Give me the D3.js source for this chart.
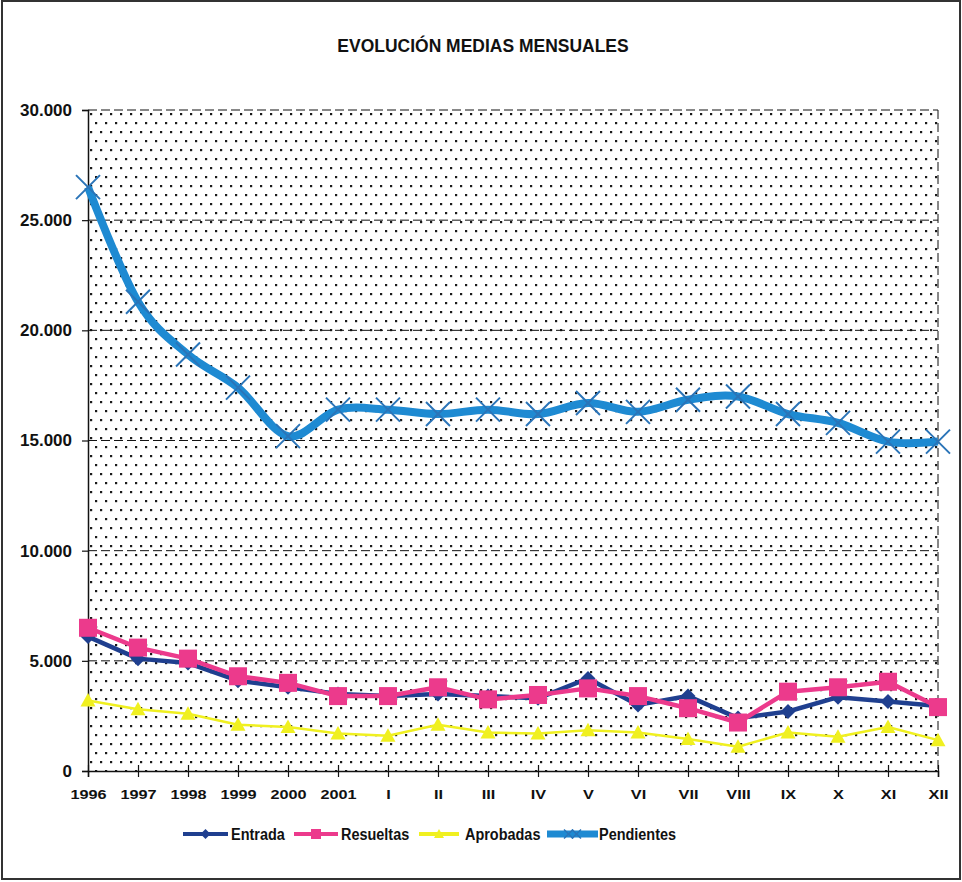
<!DOCTYPE html>
<html>
<head>
<meta charset="utf-8">
<script src="https://cdn.jsdelivr.net/npm/d3@7"></script>
<style>
  html, body { margin: 0; padding: 0; background: #fff; }
  svg { display: block; }
  text { font-family: "Liberation Sans", Arial, sans-serif; font-weight: bold; fill: #111; }
</style>
</head>
<body>
<script>
const categories = ["1996","1997","1998","1999","2000","2001","I","II","III","IV","V","VI","VII","VIII","IX","X","XI","XII"];
const entrada    = [6100,5100,4900,4100,3800,3500,3400,3500,3400,3300,4200,3000,3400,2400,2700,3350,3150,2950];
const resueltas  = [6500,5600,5100,4300,4000,3400,3400,3800,3250,3450,3750,3400,2850,2200,3600,3800,4050,2900];
const aprobadas  = [3200,2800,2600,2100,2000,1700,1600,2100,1750,1700,1850,1750,1450,1100,1750,1550,2000,1400];
const pendientes = [26500,21300,18900,17400,15200,16400,16400,16200,16400,16200,16700,16300,16850,17000,16200,15800,14950,14950];
const yTicks = [0,5000,10000,15000,20000,25000,30000];
const yTickLabels = ["0","5.000","10.000","15.000","20.000","25.000","30.000"];
const seriesNames = ["Entrada","Resueltas","Aprobadas","Pendientes"];
const title = "EVOLUCIÓN MEDIAS MENSUALES";

const W = 962, H = 882;
const plot = {left: 88, right: 938, top: 110, bottom: 771};

const svg = d3.select("body").append("svg").attr("width", W).attr("height", H);

// dotted background pattern
const defs = svg.append("defs");
const pat = defs.append("pattern").attr("id","dots").attr("patternUnits","userSpaceOnUse")
  .attr("x", plot.left).attr("y", plot.top).attr("width", 10).attr("height", 18);
pat.append("rect").attr("width",10).attr("height",18).attr("fill","#fff");
pat.append("rect").attr("x",2).attr("y",3).attr("width",2.2).attr("height",2.2).attr("fill","#1a1a1a");
pat.append("rect").attr("x",7).attr("y",12).attr("width",2.2).attr("height",2.2).attr("fill","#1a1a1a");

// outer frame
svg.append("rect").attr("x",2).attr("y",1).attr("width",W-4).attr("height",H-4)
  .attr("fill","none").attr("stroke","#333").attr("stroke-width",2);

// title
svg.append("text").attr("x", 0).attr("y", 0).attr("text-anchor","middle")
  .style("font-size","19px")
  .attr("transform","translate(483,52) scale(0.92,1)")
  .text(title);

const x = d3.scalePoint().domain(categories).range([plot.left, plot.right]).padding(0);
const y = d3.scaleLinear().domain([0,30000]).range([plot.bottom, plot.top]);

// plot background
svg.append("rect").attr("x",plot.left).attr("y",plot.top)
  .attr("width",plot.right-plot.left).attr("height",plot.bottom-plot.top)
  .attr("fill","url(#dots)");

// gridlines (dashed)
svg.append("g").selectAll("line").data(yTicks.filter(d => d > 0)).join("line")
  .attr("x1", plot.left).attr("x2", plot.right)
  .attr("y1", d => y(d)).attr("y2", d => y(d))
  .attr("stroke","#111").attr("stroke-width",1).attr("stroke-dasharray","9,4");
// right border dashed
svg.append("line").attr("x1",plot.right).attr("x2",plot.right).attr("y1",plot.top).attr("y2",plot.bottom)
  .attr("stroke","#111").attr("stroke-width",1).attr("stroke-dasharray","9,4");

// y axis
const yAxis = d3.axisLeft(y).tickValues(yTicks).tickSize(6).tickPadding(10)
  .tickFormat((d,i) => yTickLabels[i]);
const gy = svg.append("g").attr("transform", `translate(${plot.left},0)`).call(yAxis);
gy.select(".domain").attr("stroke","#111").attr("stroke-width",1.5);
gy.selectAll(".tick line").attr("stroke","#111").attr("stroke-width",1.2);
gy.selectAll(".tick text").style("font-size","17px").style("font-family","'Liberation Sans', Arial, sans-serif")
  .style("font-weight","bold").attr("fill","#222").attr("x",-16);

// x axis
const xAxis = d3.axisBottom(x).tickSize(6).tickPadding(14);
const gx = svg.append("g").attr("transform", `translate(0,${plot.bottom})`).call(xAxis);
gx.select(".domain").attr("stroke","#111").attr("stroke-width",1.5);
gx.selectAll(".tick line").attr("stroke","#111").attr("stroke-width",1.2).attr("y1",-6).attr("y2",6);
gx.selectAll(".tick text").style("font-size","13px").style("font-family","'Liberation Sans', Arial, sans-serif")
  .style("font-weight","600").attr("fill","#333")
  .attr("y", 0).attr("dy", 0)
  .attr("transform", "translate(0,28) scale(1.25,1)");

const series = [
  {name: seriesNames[0], values: entrada,   color: "#1f3f8f", width: 4.5, marker: "diamond",  mcolor: "#1f3f8f", msize: 15, curve: d3.curveLinear},
  {name: seriesNames[1], values: resueltas, color: "#ec3a8c", width: 4.5, marker: "square",   mcolor: "#ec3a8c", msize: 18, curve: d3.curveLinear},
  {name: seriesNames[2], values: aprobadas, color: "#f0f020", width: 2.5, marker: "triangle", mcolor: "#f0f020", msize: 15, curve: d3.curveLinear},
  {name: seriesNames[3], values: pendientes,color: "#1e8ad2", width: 8,   marker: "x",        mcolor: "#2a74b8", msize: 24, curve: d3.curveCardinal.tension(0)}
];

function drawMarker(g, type, cx, cy, s, color, sw) {
  if (type === "diamond") {
    const h = s/2;
    g.append("path").attr("d", `M${cx},${cy-h}L${cx+h},${cy}L${cx},${cy+h}L${cx-h},${cy}Z`).attr("fill", color);
  } else if (type === "square") {
    g.append("rect").attr("x", cx-s/2).attr("y", cy-s/2).attr("width", s).attr("height", s).attr("fill", color);
  } else if (type === "triangle") {
    const h = s/2;
    g.append("path").attr("d", `M${cx},${cy-h}L${cx+h},${cy+h*0.8}L${cx-h},${cy+h*0.8}Z`).attr("fill", color);
  } else if (type === "x") {
    const h = s/2;
    g.append("path").attr("d", `M${cx-h},${cy-h}L${cx+h},${cy+h}M${cx-h},${cy+h}L${cx+h},${cy-h}`)
      .attr("stroke", color).attr("stroke-width", sw || 2).attr("fill","none");
  }
}

series.forEach(s => {
  const line = d3.line().x((d,i) => x(categories[i])).y(d => y(d)).curve(s.curve);
  const g = svg.append("g");
  g.append("path").datum(s.values).attr("d", line).attr("fill","none")
    .attr("stroke", s.color).attr("stroke-width", s.width).attr("stroke-linejoin","round");
  s.values.forEach((v,i) => drawMarker(g, s.marker, x(categories[i]), y(v), s.msize, s.mcolor));
});

// legend
const legendItems = [
  {x0: 183, x1: 228, tx: 231},
  {x0: 294, x1: 338, tx: 341},
  {x0: 419, x1: 459, tx: 465},
  {x0: 547, x1: 598, tx: 599}
];
const ly = 834;
series.forEach((s,i) => {
  const it = legendItems[i];
  const g = svg.append("g");
  g.append("line").attr("x1", it.x0).attr("x2", it.x1).attr("y1", ly).attr("y2", ly)
    .attr("stroke", s.color).attr("stroke-width", s.width === 8 ? 7 : 4);
  if (s.marker === "x") {
    drawMarker(g, "x", (it.x0+it.x1)/2 - 4, ly, 9, s.mcolor, 1.5);
    drawMarker(g, "x", (it.x0+it.x1)/2 + 4, ly, 9, s.mcolor, 1.5);
  } else {
    drawMarker(g, s.marker, (it.x0+it.x1)/2, ly, 10, s.mcolor);
  }
  g.append("text").attr("x", 0).attr("y", 0)
    .attr("transform", `translate(${it.tx},${ly + 6}) scale(0.85,1)`)
    .style("font-size","17px").text(s.name);
});
</script>
</body>
</html>
